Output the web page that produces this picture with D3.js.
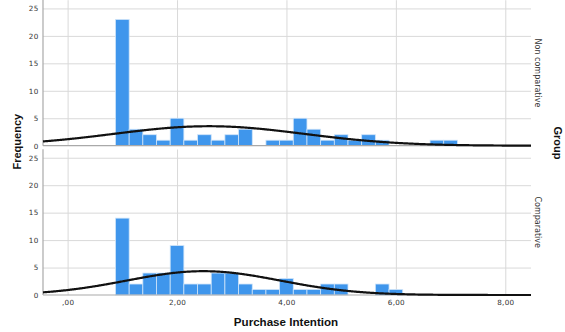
<!DOCTYPE html>
<html>
<head>
<meta charset="utf-8">
<script src="https://cdn.jsdelivr.net/npm/d3@7"></script>
<style>
  html, body { margin: 0; padding: 0; background: #fff; }
  svg { display: block; }
</style>
</head>
<body>
<svg id="chart" width="565" height="332"></svg>
<script>
// Histogram of Purchase Intention, one panel per group, with fitted normal curves
const groups = ["Non comparative", "Comparative"];
const binMids = [1.00, 1.25, 1.50, 1.75, 2.00, 2.25, 2.50, 2.75, 3.00, 3.25, 3.50, 3.75,
                 4.00, 4.25, 4.50, 4.75, 5.00, 5.25, 5.50, 5.75, 6.00, 6.25, 6.50, 6.75, 7.00];
const countsNonComparative = [23, 3, 2, 1, 5, 1, 2, 1, 2, 3, 0, 1, 1, 5, 3, 1, 2, 1, 2, 1, 0, 0, 0, 1, 1];
const countsComparative    = [14, 2, 4, 4, 9, 2, 2, 4, 4, 2, 1, 1, 3, 1, 1, 2, 2, 0, 0, 2, 1, 0, 0, 0, 0];
const binWidth = 0.25;
const xTickValues = [0, 2, 4, 6, 8];
const xTickLabels = [",00", "2,00", "4,00", "6,00", "8,00"];
const yTickValues = [0, 5, 10, 15, 20, 25];

const seriesCounts = [countsNonComparative, countsComparative];

const svg = d3.select("#chart");
const left = 43, right = 531;
const panels = [
  { top: 0.2, bottom: 145.7 },
  { top: 149.5, bottom: 295 }
];

const x = d3.scaleLinear().domain([-0.45, 8.47]).range([left, right]);

const barColor = "#3f96ec";
const gridColor = "#d9d9d9";
const axisColor = "#a9a9a9";
const labelColor = "#333";

function normalFit(counts) {
  const n = d3.sum(counts);
  const mean = d3.sum(counts, (c, i) => c * binMids[i]) / n;
  const ss = d3.sum(counts, (c, i) => c * (binMids[i] - mean) ** 2);
  const sd = Math.sqrt(ss / (n - 1));
  return { n, mean, sd };
}

groups.forEach((name, gi) => {
  const p = panels[gi];
  const counts = seriesCounts[gi];
  const y = d3.scaleLinear().domain([0, 26.5]).range([p.bottom, p.top]);
  const g = svg.append("g");

  // horizontal grid
  g.append("g")
    .attr("transform", `translate(${left},0)`)
    .call(d3.axisLeft(y).tickValues(yTickValues.slice(1)).tickSize(-(right - left)).tickFormat(""))
    .call(a => a.select(".domain").remove())
    .call(a => a.selectAll("line").attr("stroke", gridColor).attr("stroke-width", 1));

  // vertical grid
  g.append("g")
    .attr("transform", `translate(0,${p.bottom})`)
    .call(d3.axisBottom(x).tickValues(xTickValues).tickSize(-(p.bottom - p.top)).tickFormat(""))
    .call(a => a.select(".domain").remove())
    .call(a => a.selectAll("line").attr("stroke", gridColor).attr("stroke-width", 1));

  // bars
  g.append("g")
    .selectAll("rect")
    .data(binMids.map((m, i) => ({ m, c: counts[i] })).filter(d => d.c > 0))
    .join("rect")
    .attr("x", d => x(d.m - binWidth / 2))
    .attr("width", d => x(d.m + binWidth / 2) - x(d.m - binWidth / 2))
    .attr("y", d => y(d.c))
    .attr("height", d => y(0) - y(d.c))
    .attr("fill", barColor)
    .attr("stroke", "#cfe4f9")
    .attr("stroke-width", 0.8);

  // axis lines
  g.append("line")
    .attr("x1", left).attr("x2", right)
    .attr("y1", y(0)).attr("y2", y(0))
    .attr("stroke", axisColor).attr("stroke-width", 1.2);
  g.append("line")
    .attr("x1", left).attr("x2", left)
    .attr("y1", p.top - 0.2).attr("y2", p.bottom)
    .attr("stroke", axisColor).attr("stroke-width", 1.2);

  // normal curve
  const fit = normalFit(counts);
  const scaleK = fit.n * binWidth / (fit.sd * Math.sqrt(2 * Math.PI));
  const xs = d3.range(x.domain()[0], x.domain()[1] + 0.001, 0.02);
  const line = d3.line()
    .x(v => x(v))
    .y(v => y(scaleK * Math.exp(-0.5 * ((v - fit.mean) / fit.sd) ** 2)))
    .curve(d3.curveBasis);
  g.append("path")
    .datum(xs)
    .attr("d", line)
    .attr("fill", "none")
    .attr("stroke", "#111")
    .attr("stroke-width", 2.2);

  // y tick labels
  g.append("g")
    .attr("transform", `translate(${left - 4},0)`)
    .call(d3.axisLeft(y).tickValues(yTickValues).tickSize(0).tickPadding(0))
    .call(a => a.select(".domain").remove())
    .call(a => a.selectAll("text")
      .attr("font-family", "DejaVu Sans, sans-serif")
      .attr("font-size", 7.2)
      .attr("letter-spacing", 0.6)
      .attr("fill", labelColor));

  // group label on the right
  svg.append("text")
    .attr("transform", `translate(538,${(p.top + p.bottom) / 2}) rotate(90)`)
    .attr("text-anchor", "middle")
    .attr("dy", "0.35em")
    .attr("font-family", "DejaVu Sans, sans-serif")
    .attr("font-size", 8)
    .attr("fill", labelColor)
    .text(name);
});

// x tick labels under the bottom panel
svg.append("g")
  .attr("transform", `translate(0,${panels[1].bottom + 5})`)
  .call(d3.axisBottom(x).tickValues(xTickValues).tickSize(0).tickPadding(0)
    .tickFormat((d, i) => xTickLabels[i]))
  .call(a => a.select(".domain").remove())
  .call(a => a.selectAll("text")
    .attr("font-family", "DejaVu Sans, sans-serif")
    .attr("font-size", 7.2)
    .attr("letter-spacing", 0.3)
    .attr("fill", labelColor));

// axis titles
svg.append("text")
  .attr("x", 286).attr("y", 326)
  .attr("text-anchor", "middle")
  .attr("font-family", "Liberation Sans, Arial, sans-serif")
  .attr("font-weight", "bold")
  .attr("font-size", 11.6)
  .attr("fill", "#111")
  .text("Purchase Intention");

svg.append("text")
  .attr("transform", "translate(17,141.7) rotate(-90)")
  .attr("text-anchor", "middle")
  .attr("dy", "0.35em")
  .attr("font-family", "Liberation Sans, Arial, sans-serif")
  .attr("font-weight", "bold")
  .attr("font-size", 11)
  .attr("fill", "#111")
  .text("Frequency");

svg.append("text")
  .attr("transform", "translate(557.5,143) rotate(90)")
  .attr("text-anchor", "middle")
  .attr("dy", "0.35em")
  .attr("font-family", "Liberation Sans, Arial, sans-serif")
  .attr("font-weight", "bold")
  .attr("font-size", 11)
  .attr("fill", "#111")
  .text("Group");
</script>
</body>
</html>
